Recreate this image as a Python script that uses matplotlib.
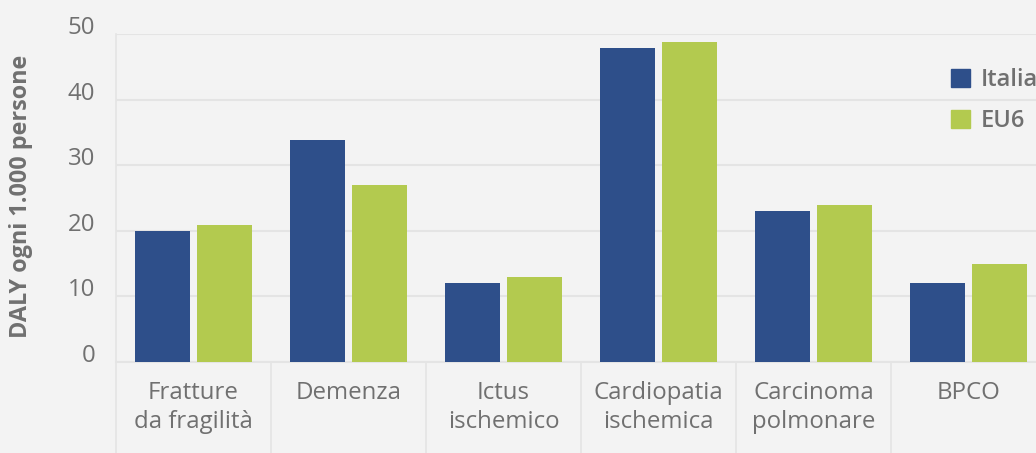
import matplotlib.pyplot as plt
from matplotlib.patches import Patch
import numpy as np

categories = ["Fratture\nda fragilità", "Demenza", "Ictus\nischemico",
              "Cardiopatia\nischemica", "Carcinoma\npolmonare", "BPCO"]
italia = [20, 33.8, 12, 47.9, 23, 12]
eu6 = [20.9, 27, 13, 48.8, 24, 15]
series_names = ["Italia", "EU6"]

BG = "#f3f3f3"
GRID = "#e4e4e4"
TEXT = "#707070"
BLUE = "#2e4f8a"
GREEN = "#b3ca4f"

plt.rcParams["font.family"] = ["Open Sans", "DejaVu Sans"]

fig = plt.figure(figsize=(10.36, 4.53), dpi=100, facecolor=BG)
ax = fig.add_axes([116 / 1036, 91 / 453, 930 / 1036, 328 / 453], facecolor=BG)

x = np.arange(len(categories))
w = 0.36
ax.bar(x - 0.2, italia, w, color=BLUE, zorder=3)
ax.bar(x + 0.2, eu6, w, color=GREEN, zorder=3)

ax.set_xlim(-0.5, len(categories) - 0.5)
ax.set_ylim(0, 50)
ax.set_yticks(range(0, 51, 10))
ax.set_xticks(x, categories)

for s in ax.spines.values():
    s.set_visible(False)
ax.grid(axis="y", color=GRID, linewidth=1.5, zorder=0)
ax.axhline(0, color=GRID, linewidth=1.5, zorder=1, clip_on=False)

# category separators below the axis, left one runs up the whole plot
tr = ax.get_xaxis_transform()
for i, xs in enumerate(np.arange(-0.5, len(categories), 1.0)):
    top = 1.0 if i == 0 else 0.0
    ax.plot([xs, xs], [-0.3, top], transform=tr, color=GRID,
            linewidth=1.2, clip_on=False, zorder=1)

ax.tick_params(axis="both", length=0, labelsize=17.3, labelcolor=TEXT)
ax.tick_params(axis="x", pad=13.5)
ax.tick_params(axis="y", pad=15)
for lab in ax.get_xticklabels():
    lab.set_linespacing(1.3)
for lab in ax.get_yticklabels():
    lab.set_verticalalignment("baseline")

fig.text(21 / 1036, 1 - 196 / 453, "DALY ogni 1.000 persone", rotation=90,
         ha="center", va="center", fontsize=16.8, fontweight="bold", color=TEXT)

handles = [Patch(color=BLUE), Patch(color=GREEN)]
fig.legend(handles, series_names, loc="upper left",
           bbox_to_anchor=(951 / 1036, 1 - 68 / 453), frameon=False,
           borderpad=0, borderaxespad=0, handlelength=0.8, handleheight=0.8,
           handletextpad=0.45, labelspacing=0.72,
           prop={"size": 17, "weight": "semibold"}, labelcolor=TEXT)

fig.savefig("out.png", dpi=100, facecolor=BG)
